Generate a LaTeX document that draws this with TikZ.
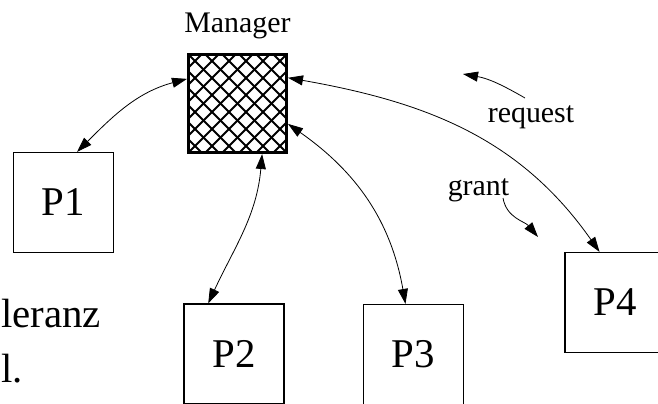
\documentclass[tikz,border=0pt]{standalone}
\usepackage{fontspec}
\setmainfont{Liberation Serif}
\usetikzlibrary{positioning,arrows.meta}

\begin{document}
\begin{tikzpicture}[
    x=1bp, y=1bp,
    proc/.style={
        rectangle, draw=black,
        line width=1.2bp,
        minimum size=100bp,
        inner sep=0pt,
        font=\fontsize{41}{48}\selectfont
    },
    mgrbox/.style={
        rectangle, draw=black,
        line width=3bp,
        minimum size=98bp,
        inner sep=0pt,
        path picture={
            \foreach \k in {-8,...,8} {
                \draw[line width=1.9bp] ([xshift=\k*17bp]path picture bounding box.center) ++(-80,-80) -- ++(160,160);
                \draw[line width=1.9bp] ([xshift=\k*17bp]path picture bounding box.center) ++(-80,80) -- ++(160,-160);
            }
        }
    },
    lbl/.style={font=\fontsize{30}{36}\selectfont, inner sep=0pt},
    slide/.style={font=\fontsize{41}{48}\selectfont, inner sep=0pt, anchor=base west},
    link/.style={<->, line width=0.8bp, >={Triangle[length=15bp,width=10bp]}}, % two-way
    hint/.style={->, line width=0.8bp, >={Triangle[length=15bp,width=10bp]}}   % one-way
]

\useasboundingbox (0,-403) rectangle (658,0);
\clip (0,-403) rectangle (658,0);

% --- MANAGER ---
\node[mgrbox] (mgr) at (237.5,-103.5) {};
\node[lbl, above=14bp of mgr] (mgrlbl) {Manager};

% --- PROCESSES ---
\node[proc] (p1) at (63.5,-202.5) {P1};
\node[proc] (p2) at (234,-354) {P2};
\node[proc] (p3) at (413.5,-354.5) {P3};
\node[proc] (p4) at (615,-302.5) {P4};

% --- SLIDE TEXT ---
\node[slide] (frag1) at (1,-327) {leranz};
\node[slide] (frag2) at (1,-382) {l.};

% --- LABELS ---
\node[lbl, anchor=base] (req) at (531,-122) {request};
\node[lbl, anchor=base] (grt) at (478.5,-195) {grant};
\coordinate (reqtail) at (525,-98);
\coordinate (reqhead) at (463,-74);
\coordinate (grttail) at (503,-198);
\coordinate (grthead) at (538,-237);

% --- ARROWS ---
% 1. Manager <-> P1
\draw[link] (mgr.154) to[out=195, in=45] (p1.75);

% 2. Manager <-> P2
\draw[link] (mgr.-64) to[out=-95, in=65] (p2.117);

% 3. Manager <-> P3
\draw[link] (mgr.-22) to[out=-35, in=100] (p3.99);

% 4. Manager <-> P4
\draw[link] (mgr.27) to[out=-10, in=125] (p4.107);

% 5. request / grant
\draw[hint] (reqtail) to[out=150, in=-10] (reqhead);
\draw[hint] (grttail) to[out=-80, in=130] (grthead);

\end{tikzpicture}
\end{document}
